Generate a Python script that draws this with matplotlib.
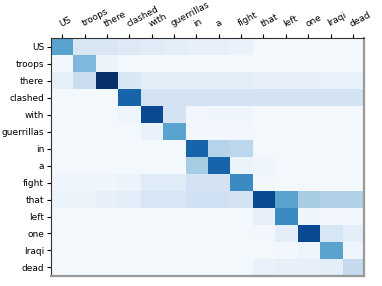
import numpy as np
import matplotlib
matplotlib.use("Agg")
import matplotlib.pyplot as plt

words = ["US", "troops", "there", "clashed", "with", "guerrillas", "in", "a",
         "fight", "that", "left", "one", "Iraqi", "dead"]

row_US =         [0.55, 0.15, 0.15, 0.13, 0.12, 0.10, 0.08, 0.08, 0.07, 0.02, 0.02, 0.02, 0.02, 0.02]
row_troops =     [0.03, 0.45, 0.06, 0.02, 0.02, 0.02, 0.02, 0.02, 0.02, 0.02, 0.02, 0.02, 0.02, 0.02]
row_there =      [0.08, 0.22, 1.00, 0.15, 0.10, 0.10, 0.10, 0.10, 0.10, 0.08, 0.08, 0.08, 0.07, 0.07]
row_clashed =    [0.02, 0.02, 0.02, 0.80, 0.18, 0.18, 0.18, 0.18, 0.18, 0.18, 0.18, 0.18, 0.18, 0.18]
row_with =       [0.02, 0.02, 0.02, 0.05, 0.90, 0.18, 0.03, 0.04, 0.04, 0.02, 0.02, 0.02, 0.02, 0.02]
row_guerrillas = [0.02, 0.02, 0.02, 0.02, 0.07, 0.55, 0.03, 0.03, 0.03, 0.02, 0.02, 0.02, 0.02, 0.02]
row_in =         [0.02, 0.02, 0.02, 0.02, 0.02, 0.02, 0.80, 0.30, 0.28, 0.02, 0.02, 0.02, 0.02, 0.02]
row_a =          [0.02, 0.02, 0.02, 0.02, 0.02, 0.02, 0.35, 0.80, 0.06, 0.04, 0.02, 0.02, 0.02, 0.02]
row_fight =      [0.04, 0.04, 0.04, 0.06, 0.12, 0.12, 0.18, 0.18, 0.65, 0.03, 0.02, 0.02, 0.02, 0.02]
row_that =       [0.06, 0.06, 0.08, 0.10, 0.16, 0.16, 0.20, 0.20, 0.18, 0.90, 0.55, 0.35, 0.32, 0.32]
row_left =       [0.02, 0.02, 0.02, 0.02, 0.02, 0.02, 0.02, 0.02, 0.02, 0.08, 0.65, 0.04, 0.03, 0.03]
row_one =        [0.02, 0.02, 0.02, 0.02, 0.02, 0.02, 0.02, 0.02, 0.02, 0.03, 0.10, 0.90, 0.16, 0.10]
row_Iraqi =      [0.02, 0.02, 0.02, 0.02, 0.02, 0.02, 0.02, 0.02, 0.02, 0.02, 0.03, 0.05, 0.55, 0.05]
row_dead =       [0.02, 0.02, 0.02, 0.02, 0.02, 0.02, 0.02, 0.02, 0.02, 0.07, 0.08, 0.08, 0.10, 0.25]

M = np.array([row_US, row_troops, row_there, row_clashed, row_with, row_guerrillas,
              row_in, row_a, row_fight, row_that, row_left, row_one, row_Iraqi, row_dead])

fig = plt.figure(figsize=(3.82, 2.86), dpi=100)
ax = fig.add_axes([0.1335, 0.035, 0.8195, 0.832])
ax.imshow(M, cmap="Blues", vmin=0, vmax=1, aspect="auto", interpolation="nearest")
ax.set_xticks(range(len(words)))
ax.set_yticks(range(len(words)))
ax.xaxis.tick_top()
ax.set_xticklabels(words, rotation=28, ha="left", va="bottom", rotation_mode="anchor", fontsize=6.5)
ax.set_yticklabels(words, fontsize=6.5)
ax.tick_params(axis="y", length=3, width=0.8, pad=2)
ax.tick_params(axis="x", length=3, width=0.8, pad=4)
for s in ["left", "top"]:
    ax.spines[s].set_color("#333333")
    ax.spines[s].set_linewidth(0.8)
for s in ["right", "bottom"]:
    ax.spines[s].set_color("#999999")
    ax.spines[s].set_linewidth(1.6)
fig.savefig("out.png", dpi=100)
